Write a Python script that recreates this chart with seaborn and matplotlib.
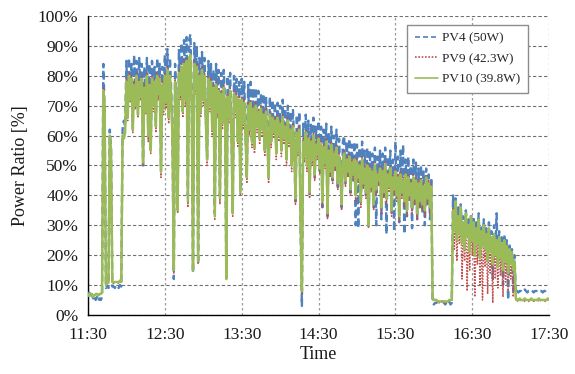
import matplotlib
matplotlib.use("Agg")
import numpy as np
import pandas as pd
import matplotlib.pyplot as plt
import seaborn as sns

# ---------------- data (percent, one sample per minute from 11:30) ----------------
series_names = ["PV4 (50W)", "PV9 (42.3W)", "PV10 (39.8W)"]
time_ticks = [0, 60, 120, 180, 240, 300, 360]
time_labels = ["11:30", "12:30", "13:30", "14:30", "15:30", "16:30", "17:30"]
y_ticks = [0, 10, 20, 30, 40, 50, 60, 70, 80, 90, 100]

pv4 = [
    6, 7.5, 6, 7, 5.5, 6.5, 5, 6, 4.5, 5.5,
    5, 6, 84, 68, 9, 9.5, 9, 62, 56, 9.5,
    9.5, 9, 10, 9.5, 9, 10, 9.5, 62, 65, 63,
    85, 68, 86, 74, 84, 64, 87, 72, 85, 69,
    86, 75, 84, 50, 83, 70, 86, 62, 84, 57,
    85, 72, 83, 65, 86, 76, 84, 50, 83, 71,
    87, 73, 89, 68, 86, 75, 60, 12, 84, 72,
    36, 89, 77, 91, 70, 92, 75, 93, 40, 92,
    94, 73, 14, 91, 78, 90, 17, 86, 70, 88,
    75, 86, 67, 53, 85, 72, 84, 63, 82, 34,
    84, 70, 82, 40, 81, 66, 82, 72, 12, 80,
    68, 81, 62, 35, 80, 70, 79, 60, 78, 42,
    79, 66, 78, 61, 47, 77, 64, 78, 59, 76,
    57, 76, 65, 75, 60, 74, 63, 74, 56, 73,
    61, 47, 73, 59, 72, 62, 71, 55, 71, 61,
    70, 56, 72, 60, 69, 53, 70, 59, 68, 51,
    69, 58, 38, 67, 56, 68, 28, 3, 64, 54,
    67, 51, 65, 40, 64, 53, 66, 46, 63, 55,
    65, 48, 63, 36, 62, 50, 64, 33, 61, 47,
    63, 45, 60, 49, 62, 42, 59, 48, 36, 58,
    60, 44, 58, 47, 59, 40, 57, 45, 58, 30,
    57, 29, 56, 37, 58, 43, 55, 40, 56, 29,
    55, 42, 54, 36, 56, 30, 53, 44, 55, 32,
    54, 40, 56, 27, 53, 42, 55, 34, 52, 28,
    58, 39, 53, 31, 55, 40, 57, 27, 52, 33,
    53, 38, 50, 29, 52, 37, 51, 32, 49, 36,
    50, 34, 48, 30, 49, 37, 47, 32, 46, 4,
    3.5, 4, 4, 4.5, 4.5, 4, 4.5, 4.5, 4, 3.5,
    4.5, 4, 4.5, 3.5, 4, 40, 30, 39, 27, 36,
    29, 37, 26, 33, 23, 35, 28, 32, 22, 34,
    26, 33, 21, 31, 25, 34, 20, 30, 24, 32,
    23, 29, 19, 31, 22, 28, 12, 30, 21, 34,
    17, 28, 20, 26, 10, 27, 19, 25, 5, 24,
    18, 22, 8, 20, 7, 8, 7.5, 8, 8, 7.5,
    8, 8.5, 8, 7.5, 8, 8, 8.5, 8, 7.5, 8,
    8, 8, 8.5, 8, 8, 7.5, 8, 8, 8.5, 8,
    8,
]

pv9 = [
    6.5, 7, 6.5, 7, 6.5, 6.5, 7, 7, 6.5, 7,
    7, 7.5, 76, 70, 10, 10, 10.5, 60, 55, 10.5,
    10.5, 11, 11, 11, 10.5, 11, 11, 60, 60, 61,
    79, 65, 81, 71, 80, 61, 78, 69, 81, 66,
    79, 72, 80, 50, 77, 67, 81, 58, 78, 54,
    80, 68, 79, 61, 81, 72, 80, 46, 78, 67,
    81, 69, 83, 64, 80, 71, 56, 14, 79, 68,
    34, 82, 72, 84, 66, 85, 70, 86, 36, 86,
    87, 68, 15, 85, 74, 84, 17, 81, 66, 83,
    70, 81, 63, 50, 80, 68, 79, 60, 77, 32,
    78, 66, 76, 37, 75, 62, 77, 68, 12, 74,
    64, 76, 58, 33, 75, 66, 74, 56, 73, 40,
    73, 62, 72, 58, 44, 71, 60, 72, 56, 70,
    54, 71, 61, 69, 57, 70, 60, 68, 53, 69,
    58, 44, 68, 56, 67, 59, 66, 52, 67, 58,
    65, 53, 67, 57, 64, 50, 66, 56, 63, 48,
    64, 55, 37, 62, 53, 63, 29, 7, 59, 51,
    62, 48, 60, 39, 59, 50, 61, 45, 58, 52,
    60, 47, 58, 36, 57, 49, 59, 32, 56, 46,
    58, 44, 55, 48, 57, 42, 54, 47, 35, 53,
    55, 43, 53, 46, 54, 40, 52, 45, 53, 38,
    52, 44, 51, 36, 53, 42, 50, 39, 51, 29,
    50, 41, 49, 35, 51, 40, 48, 43, 50, 34,
    49, 39, 51, 37, 48, 41, 50, 33, 47, 40,
    49, 38, 47, 31, 48, 39, 46, 36, 48, 33,
    47, 38, 45, 34, 47, 37, 46, 32, 45, 36,
    46, 35, 44, 33, 47, 37, 45, 34, 44, 5.5,
    4.5, 5, 4.5, 4.5, 4, 4.5, 4.5, 4, 4.5, 4.5,
    4, 4.5, 4.5, 5, 4.5, 36, 22, 37, 18, 32,
    24, 35, 12, 30, 18, 33, 8, 29, 15, 32,
    20, 30, 6, 28, 17, 31, 10, 27, 5, 29,
    16, 26, 7, 28, 14, 25, 4, 26, 12, 24,
    9, 25, 13, 23, 6, 24, 11, 22, 8, 21,
    12, 20, 6, 17, 5, 4.5, 5, 5, 4.5, 5,
    5, 4.5, 5, 5, 4.5, 5, 5, 5, 4.5, 5,
    5, 4.5, 5, 5, 4.5, 5, 5, 4.5, 5, 5,
    5,
]

pv10 = [
    6.5, 7, 6.5, 7, 6, 6.5, 7, 7, 6.5, 7,
    7, 7.5, 75, 70, 10, 10.5, 11, 60, 55, 11,
    11, 11, 11, 11, 11, 11.5, 11, 60, 59, 61,
    78, 66, 80, 72, 79, 62, 77, 70, 80, 67,
    78, 73, 79, 51, 76, 68, 80, 60, 77, 55,
    79, 70, 78, 63, 80, 74, 79, 48, 77, 69,
    80, 71, 82, 66, 80, 73, 58, 15, 78, 70,
    35, 81, 74, 83, 68, 84, 72, 85, 38, 86,
    87, 70, 15, 84, 76, 83, 18, 80, 68, 82,
    72, 80, 65, 52, 79, 70, 78, 62, 76, 33,
    77, 68, 75, 39, 74, 64, 76, 70, 12, 73,
    66, 75, 60, 34, 74, 68, 73, 58, 72, 41,
    72, 64, 71, 60, 46, 70, 62, 71, 58, 69,
    56, 70, 63, 68, 59, 69, 62, 67, 55, 68,
    60, 46, 67, 58, 66, 61, 65, 54, 66, 60,
    64, 55, 66, 59, 63, 52, 65, 58, 62, 50,
    63, 57, 39, 61, 55, 62, 30, 8, 58, 53,
    61, 50, 59, 41, 58, 52, 60, 47, 57, 54,
    59, 49, 57, 38, 56, 51, 58, 34, 55, 48,
    57, 46, 54, 50, 56, 44, 53, 49, 37, 52,
    54, 45, 52, 48, 53, 42, 51, 47, 52, 40,
    51, 46, 50, 38, 52, 44, 49, 41, 50, 30,
    49, 43, 48, 37, 50, 42, 47, 45, 49, 36,
    48, 41, 50, 39, 47, 43, 49, 35, 46, 42,
    48, 40, 46, 33, 47, 41, 45, 38, 47, 35,
    46, 40, 44, 36, 46, 39, 45, 34, 44, 38,
    45, 37, 43, 35, 46, 39, 44, 36, 43, 6,
    5, 5, 5, 4.5, 4.5, 4.5, 4.5, 4.5, 4.5, 4.5,
    4.5, 4.5, 5, 5, 5, 35, 28, 38, 25, 33,
    27, 36, 24, 31, 22, 34, 26, 30, 21, 33,
    25, 31, 20, 29, 24, 32, 19, 28, 23, 30,
    22, 27, 18, 29, 21, 26, 17, 27, 20, 25,
    16, 26, 19, 24, 15, 25, 18, 23, 14, 22,
    17, 21, 15, 18, 5.5, 5, 5, 5.5, 5, 5,
    5, 5.5, 5, 5, 5, 5, 5.5, 5, 5, 5,
    5, 5, 5.5, 5, 5, 5, 5, 5, 5, 5.5,
    5,
]

# ---------------- styling ----------------
sns.set_style("white")
plt.rcParams["font.family"] = ["Liberation Serif", "DejaVu Serif"]

fig, ax = plt.subplots(figsize=(5.75, 3.74), dpi=100)
fig.subplots_adjust(left=0.153, right=0.955, top=0.957, bottom=0.158)

styles = [
    dict(color="#4F81BD", linestyle=(0, (3.0, 1.8)), linewidth=1.7),
    dict(color="#C0504D", linestyle=(0, (1.0, 1.0)), linewidth=1.1),
    dict(color="#9BBB59", linestyle="-", linewidth=1.8),
]

for name, vals, st in zip(series_names, [pv4, pv9, pv10], styles):
    df = pd.DataFrame({"minute": np.arange(len(vals)), "ratio": vals})
    sns.lineplot(data=df, x="minute", y="ratio", ax=ax, label=name,
                 color=st["color"], linestyle=st["linestyle"],
                 linewidth=st["linewidth"], zorder=3)

ax.set_xlim(0, 360)
ax.set_ylim(0, 100)
ax.set_xticks(time_ticks)
ax.set_xticklabels(time_labels)
ax.set_yticks(y_ticks)
ax.set_yticklabels([f"{v}%" for v in y_ticks])

ax.set_axisbelow(True)
ax.grid(axis="y", linestyle=(0, (3, 2)), color="#6e6e6e", linewidth=0.8)
ax.grid(axis="x", linestyle=(0, (2, 2)), color="#9a9a9a", linewidth=0.9)

for s in ["top", "right"]:
    ax.spines[s].set_visible(False)
for s in ["left", "bottom"]:
    ax.spines[s].set_color("black")
    ax.spines[s].set_linewidth(1.0)

ax.tick_params(axis="both", which="major", direction="out", length=4,
               width=0.8, color="black", labelsize=12.5, labelcolor="#1a1a1a")
ax.tick_params(axis="x", pad=5)
ax.tick_params(axis="y", pad=3)

ax.set_xlabel("Time", fontsize=13, color="#1a1a1a", labelpad=2)
ax.set_ylabel("Power Ratio [%]", fontsize=13, color="#1a1a1a", labelpad=6)

leg = ax.legend(loc="upper right", bbox_to_anchor=(0.954, 0.97),
                borderaxespad=0, fontsize=9.5, frameon=True, fancybox=False,
                edgecolor="#8c8c8c", framealpha=1, handlelength=1.8,
                handletextpad=0.3, labelspacing=0.62, borderpad=0.55)
leg.get_frame().set_linewidth(1.0)
for line in leg.get_lines():
    line.set_linewidth(1.2)

fig.savefig("out.png", dpi=100)
